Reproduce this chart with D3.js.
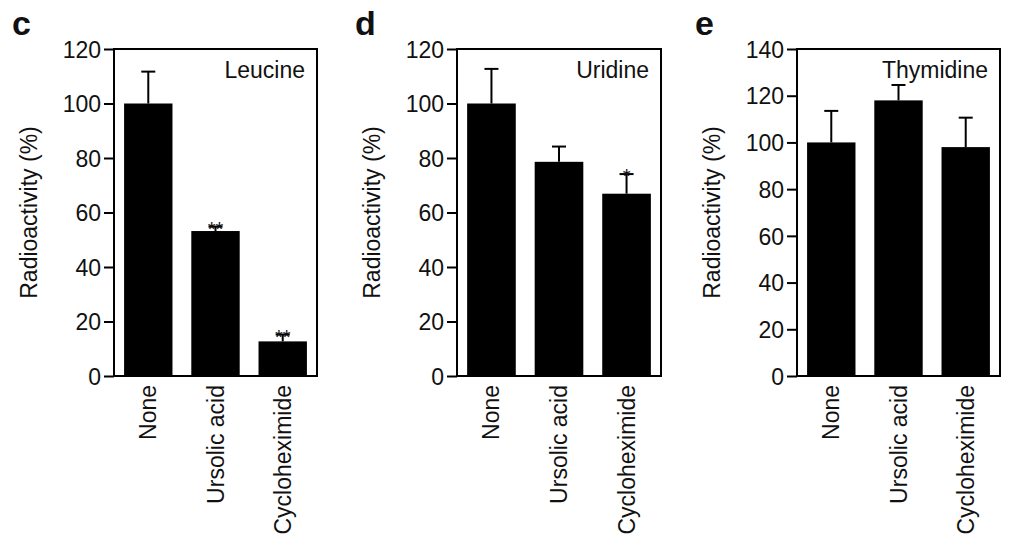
<!DOCTYPE html>
<html>
<head>
<meta charset="utf-8">
<script src="https://cdn.jsdelivr.net/npm/d3@7"></script>
<style>
  body { margin: 0; background: #fff; }
  text { font-family: "Liberation Sans", Arial, sans-serif; fill: #111; }
</style>
</head>
<body>
<svg id="chart" width="1024" height="559"></svg>
<script>
const categories = ["None", "Ursolic acid", "Cycloheximide"];

const leucine = [100, 53.2, 12.7];
const leucineErr = [11.7, 1.6, 2.5];
const leucineStars = ["", "**", "**"];

const uridine = [100, 78.6, 66.9];
const uridineErr = [12.7, 5.6, 7.2];
const uridineStars = ["", "", "*"];

const thymidine = [100, 118, 98];
const thymidineErr = [13.5, 6.6, 12.6];
const thymidineStars = ["", "", ""];

const panels = [
  { letter: "c", title: "Leucine", values: leucine, err: leucineErr, stars: leucineStars, max: 120, left: 114, right: 317 },
  { letter: "d", title: "Uridine", values: uridine, err: uridineErr, stars: uridineStars, max: 120, left: 457, right: 661 },
  { letter: "e", title: "Thymidine", values: thymidine, err: thymidineErr, stars: thymidineStars, max: 140, left: 797, right: 1000 }
];

const plotTop = 49, plotBottom = 376;
const svg = d3.select("#chart");

panels.forEach(p => {
  const g = svg.append("g");
  const x = d3.scaleBand().domain(categories).range([p.left, p.right])
    .paddingInner(0.28).paddingOuter(0.15);
  const y = d3.scaleLinear().domain([0, p.max]).range([plotBottom, plotTop]);

  // bars
  g.selectAll("rect.bar").data(p.values).enter().append("rect")
    .attr("x", (d, i) => x(categories[i]))
    .attr("y", d => y(d))
    .attr("width", x.bandwidth())
    .attr("height", d => plotBottom - y(d))
    .attr("fill", "#000");

  // upper error bars
  p.values.forEach((v, i) => {
    const cx = x(categories[i]) + x.bandwidth() / 2;
    const yt = y(v + p.err[i]);
    g.append("line").attr("x1", cx).attr("x2", cx).attr("y1", y(v)).attr("y2", yt)
      .attr("stroke", "#000").attr("stroke-width", 2);
    g.append("line").attr("x1", cx - 7).attr("x2", cx + 7).attr("y1", yt).attr("y2", yt)
      .attr("stroke", "#000").attr("stroke-width", 2);
    if (p.stars[i]) {
      g.append("text").attr("x", cx).attr("y", yt + 9)
        .attr("text-anchor", "middle").attr("font-size", 20).text(p.stars[i]);
    }
  });

  // frame
  g.append("rect").attr("x", p.left).attr("y", plotTop)
    .attr("width", p.right - p.left).attr("height", plotBottom - plotTop)
    .attr("fill", "none").attr("stroke", "#000").attr("stroke-width", 2);

  // y axis
  const ya = g.append("g").attr("transform", `translate(${p.left},0)`)
    .call(d3.axisLeft(y).ticks(p.max / 20).tickSize(10).tickPadding(3));
  ya.select(".domain").remove();
  ya.selectAll("line").attr("stroke-width", 2);
  ya.selectAll("text").attr("font-size", 23).attr("dy", "0.36em");

  // x labels
  categories.forEach(c => {
    const cx = x(c) + x.bandwidth() / 2;
    g.append("text")
      .attr("transform", `translate(${cx + 8},${plotBottom + 9}) rotate(-90)`)
      .attr("text-anchor", "end").attr("font-size", 23).text(c);
  });

  // y title
  g.append("text")
    .attr("transform", `translate(${p.left - 77},${(plotTop + plotBottom) / 2}) rotate(-90)`)
    .attr("text-anchor", "middle").attr("font-size", 23).text("Radioactivity (%)");

  // panel title
  g.append("text").attr("x", p.right - 12).attr("y", 78)
    .attr("text-anchor", "end").attr("font-size", 23).text(p.title);

  // panel letter
  g.append("text").attr("x", p.left - 102).attr("y", 35)
    .attr("font-size", 34).attr("font-weight", "bold").text(p.letter);
});
</script>
</body>
</html>
